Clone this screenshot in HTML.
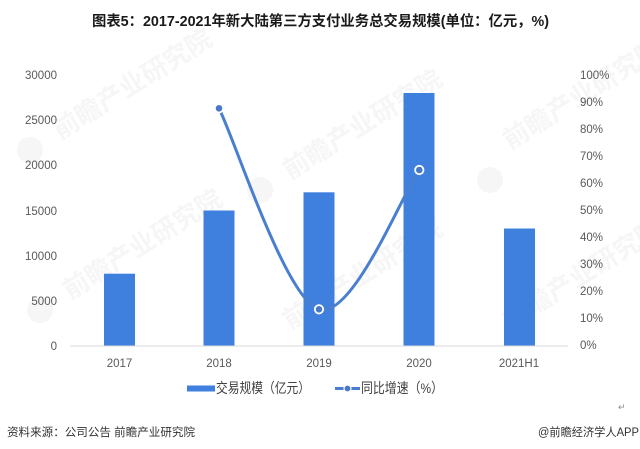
<!DOCTYPE html>
<html>
<head>
<meta charset="utf-8">
<style>
  html,body{margin:0;padding:0;background:#fff;}
  svg{display:block;}
  text{font-family:"Liberation Sans","Noto Sans CJK SC",sans-serif;}
</style>
</head>
<body>
<svg width="640" height="449" viewBox="0 0 640 449" xmlns="http://www.w3.org/2000/svg">
  <rect width="640" height="449" fill="#ffffff"/>

  <!-- faint watermarks -->
  <g fill="#f6f6f6" font-size="26" font-weight="bold">
    <text x="60" y="140" transform="rotate(-32 60 140)">前瞻产业研究院</text>
    <text x="70" y="300" transform="rotate(-32 70 300)">前瞻产业研究院</text>
    <text x="290" y="180" transform="rotate(-32 290 180)">前瞻产业研究院</text>
    <text x="290" y="330" transform="rotate(-32 290 330)">前瞻产业研究院</text>
    <text x="510" y="150" transform="rotate(-32 510 150)">前瞻产业研究院</text>
    <text x="510" y="330" transform="rotate(-32 510 330)">前瞻产业研究院</text>
  </g>
  <g fill="#f6f6f6">
    <circle cx="30" cy="150" r="13"/>
    <circle cx="40" cy="310" r="13"/>
    <circle cx="260" cy="190" r="13"/>
    <circle cx="490" cy="180" r="13"/>
  </g>

  <!-- title -->
  <text x="92" y="26" font-size="14.5" font-weight="bold" fill="#1a1a1a" textLength="457" lengthAdjust="spacingAndGlyphs">图表5：2017-2021年新大陆第三方支付业务总交易规模(单位：亿元，%)</text>

  <!-- left axis labels -->
  <g font-size="11.5" fill="#595959" text-anchor="end">
    <text x="57" y="79">30000</text>
    <text x="57" y="124">25000</text>
    <text x="57" y="169">20000</text>
    <text x="57" y="215">15000</text>
    <text x="57" y="260">10000</text>
    <text x="57" y="305">5000</text>
    <text x="57" y="350">0</text>
  </g>

  <!-- right axis labels -->
  <g font-size="11.5" fill="#595959" text-anchor="start">
    <text x="580" y="79">100%</text>
    <text x="580" y="106">90%</text>
    <text x="580" y="133">80%</text>
    <text x="580" y="160">70%</text>
    <text x="580" y="187">60%</text>
    <text x="580" y="214">50%</text>
    <text x="580" y="241">40%</text>
    <text x="580" y="268">30%</text>
    <text x="580" y="295">20%</text>
    <text x="580" y="322">10%</text>
    <text x="580" y="349">0%</text>
  </g>

  <!-- bars -->
  <g fill="#3f80de">
    <rect x="104" y="273.7" width="31" height="72.3"/>
    <rect x="203.5" y="210.5" width="31" height="135.5"/>
    <rect x="303.5" y="192.3" width="31" height="153.7"/>
    <rect x="403.5" y="93" width="31" height="253"/>
    <rect x="504" y="228.5" width="31" height="117.5"/>
  </g>

  <!-- x axis -->
  <line x1="70" y1="346" x2="568" y2="346" stroke="#d9d9d9" stroke-width="1"/>

  <!-- x labels -->
  <g font-size="11.5" fill="#595959" text-anchor="middle">
    <text x="119.5" y="367">2017</text>
    <text x="219" y="367">2018</text>
    <text x="319" y="367">2019</text>
    <text x="419" y="367">2020</text>
    <text x="519" y="367">2021H1</text>
  </g>

  <!-- line series -->
  <path d="M219,108.3 C235.7,141.8 285.6,299 319,309.3 C352.4,319.6 402.6,193.2 419.3,170" fill="none" stroke="#4a7fd0" stroke-width="3" stroke-linecap="round"/>
  <g fill="#4a78c8" stroke="#ffffff" stroke-width="1.8">
    <circle cx="219" cy="108.3" r="4.2"/>
    <circle cx="319" cy="309.3" r="4.2"/>
    <circle cx="419.3" cy="170" r="4.2"/>
  </g>

  <!-- legend -->
  <rect x="187" y="385.5" width="28" height="6" fill="#3f80de"/>
  <text x="216" y="393" font-size="14" fill="#404040" textLength="94" lengthAdjust="spacingAndGlyphs">交易规模（亿元）</text>
  <line x1="335" y1="388.5" x2="360" y2="388.5" stroke="#4a7fd0" stroke-width="3"/>
  <circle cx="347.5" cy="388.5" r="3.5" fill="#4a78c8" stroke="#ffffff" stroke-width="1.2"/>
  <text x="361" y="393" font-size="14" fill="#404040" textLength="82" lengthAdjust="spacingAndGlyphs">同比增速（%）</text>

  <!-- return mark -->
  <text x="618" y="410" font-size="9" fill="#888">↵</text>

  <!-- source -->
  <text x="7" y="436" font-size="11.5" fill="#333333" textLength="188" lengthAdjust="spacingAndGlyphs">资料来源：公司公告 前瞻产业研究院</text>
  <text x="538" y="436" font-size="11.5" fill="#333333" textLength="101" lengthAdjust="spacingAndGlyphs">@前瞻经济学人APP</text>
</svg>
</body>
</html>
